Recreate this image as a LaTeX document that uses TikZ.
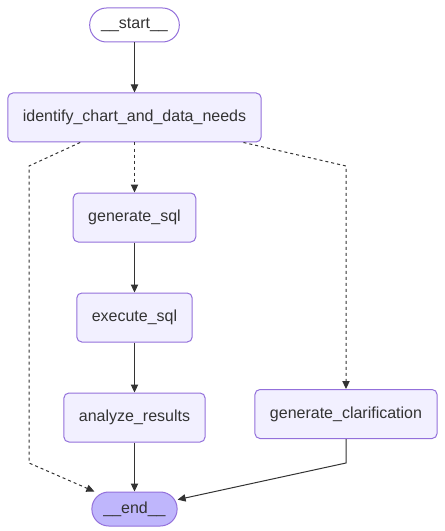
\documentclass[tikz,border=0pt]{standalone}
\usepackage{fontspec}
\setmainfont{Liberation Sans}
\usetikzlibrary{arrows.meta, positioning}
\definecolor{nodefill}{HTML}{F2F0FF}
\definecolor{nodedraw}{HTML}{9370DB}
\definecolor{finishfill}{HTML}{BFB6FC}
\definecolor{edgecol}{HTML}{333333}

\begin{document}
\begin{tikzpicture}[
  x=0.75pt, y=-0.75pt,
  stepbox/.style={rectangle, rounded corners=3.75pt, draw=nodedraw, fill=nodefill,
    line width=0.75pt, minimum height=36.75pt, inner xsep=11.25pt,
    font=\fontsize{12}{14}\selectfont, text=edgecol},
  terminal/.style={stepbox, rounded corners=12.6pt, minimum height=25.5pt, inner xsep=8.6pt},
  startbox/.style={terminal, fill=white},
  finishbox/.style={terminal, fill=finishfill},
  arr/.style={-{Triangle[length=6pt, width=5.5pt]}, line width=0.75pt, edgecol},
  condarr/.style={arr, dash pattern=on 2.25pt off 2.25pt},
]
\useasboundingbox (0,0) rectangle (445,531);
% ====== MAIN COLUMN ======
\node[startbox] (start) at (134.5,25) {\_\_start\_\_};
\node[stepbox, below=37.5pt of start] (identify) {identify\_chart\_and\_data\_needs};
\node[stepbox, below=37.5pt of identify] (gen_sql) {generate\_sql};
\node[stepbox, below=37.5pt of gen_sql] (exec_sql) {execute\_sql};
\node[stepbox, below=37.5pt of exec_sql] (analyze) {analyze\_results};
\node[finishbox, below=36.75pt of analyze] (finish) {\_\_end\_\_};
\node[stepbox] (clarify) at (346,414) {generate\_clarification};
%
% ====== BENDS ======
\coordinate (left_top) at (29,166);
\coordinate (left_low) at (29,463);
\coordinate (right_top) at (clarify.north |- left_top);
\coordinate (right_low) at (clarify.south |- left_low);
%
\draw[arr] (start) -- (identify);
\draw[condarr] (identify) -- (gen_sql);
\draw[arr] (gen_sql) -- (exec_sql);
\draw[arr] (exec_sql) -- (analyze);
\draw[arr] (analyze) -- (finish);
\draw[condarr] (identify) -- (left_top) -- (left_low) -- (finish);
\draw[condarr] (identify) -- (right_top) -- (clarify);
\draw[arr] (clarify) -- (right_low) -- (finish);
\end{tikzpicture}
\end{document}
